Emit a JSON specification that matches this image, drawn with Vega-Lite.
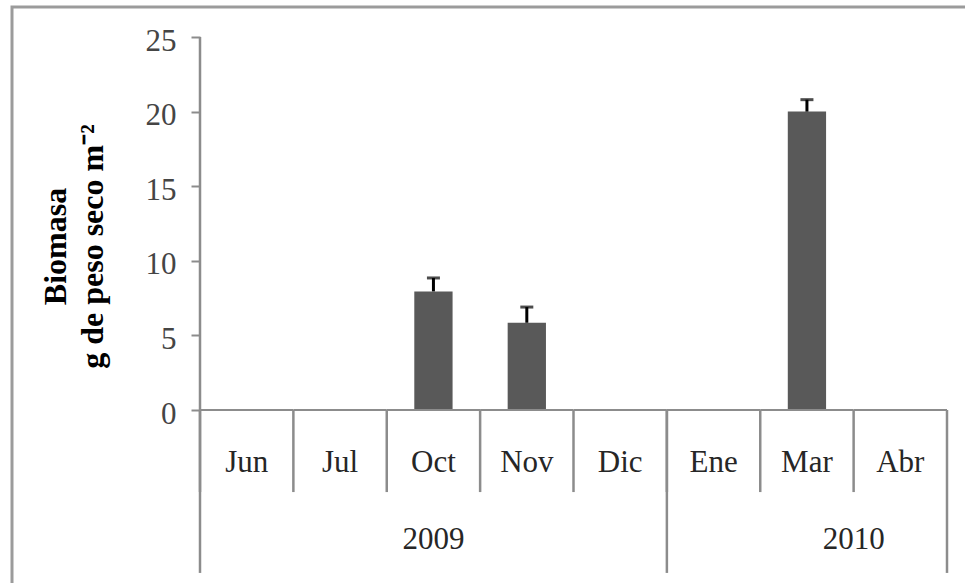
{
  "$schema": "https://vega.github.io/schema/vega-lite/v6.json",
  "autosize": "none",
  "padding": {"left": 12, "top": 7, "right": 0, "bottom": 0},
  "width": 958,
  "height": 580,
  "background": "white",
  "config": {
    "view": {"stroke": "#9b9b9b", "strokeWidth": 3},
    "font": "Liberation Serif"
  },
  "data": {
    "values": [
      {"mes": "Jun", "anio": "2009", "biomasa": 0, "sup": null},
      {"mes": "Jul", "anio": "2009", "biomasa": 0, "sup": null},
      {"mes": "Oct", "anio": "2009", "biomasa": 7.95, "sup": 8.85},
      {"mes": "Nov", "anio": "2009", "biomasa": 5.85, "sup": 6.9},
      {"mes": "Dic", "anio": "2009", "biomasa": 0, "sup": null},
      {"mes": "Ene", "anio": "2010", "biomasa": 0, "sup": null},
      {"mes": "Mar", "anio": "2010", "biomasa": 20.0, "sup": 20.8},
      {"mes": "Abr", "anio": "2010", "biomasa": 0, "sup": null}
    ]
  },
  "encoding": {
    "x": {
      "field": "mes",
      "type": "nominal",
      "sort": null,
      "scale": {"paddingInner": 0, "paddingOuter": 0, "range": [188, 935]},
      "axis": null
    }
  },
  "layer": [
    {
      "mark": {"type": "bar", "color": "#595959", "width": {"band": 0.41}},
      "encoding": {
        "y": {
          "field": "biomasa",
          "type": "quantitative",
          "scale": {"domain": [-11.863, 27.011], "nice": false, "zero": false},
          "axis": {
            "values": [0, 5, 10, 15, 20, 25],
            "offset": -188,
            "domain": false,
            "grid": false,
            "ticks": true,
            "tickSize": 9,
            "tickColor": "#8c8c8c",
            "tickWidth": 2,
            "labelFont": "Liberation Serif",
            "labelFontSize": 31,
            "labelColor": "#454545",
            "labelPadding": 15,
            "labelOffset": 4,
            "title": ["Biomasa", "g de peso seco m⁻²"],
            "titleFont": "Liberation Serif",
            "titleFontSize": 32,
            "titleFontWeight": "bold",
            "titleColor": "black",
            "titleLineHeight": 37,
            "titlePadding": 36,
            "titleY": 239
          }
        }
      }
    },
    {
      "transform": [{"filter": "datum.sup != null"}],
      "mark": {"type": "rule", "color": "black", "strokeWidth": 3},
      "encoding": {
        "y": {"field": "biomasa", "type": "quantitative"},
        "y2": {"field": "sup"}
      }
    },
    {
      "transform": [{"filter": "datum.sup != null"}],
      "mark": {"type": "tick", "color": "black", "thickness": 3, "size": 13, "orient": "horizontal"},
      "encoding": {
        "y": {"field": "sup", "type": "quantitative"}
      }
    },
    {
      "mark": {"type": "rect", "filled": false, "stroke": "#8c8c8c", "strokeWidth": 2},
      "encoding": {
        "y": {"datum": 0},
        "y2": {"datum": 0}
      }
    },
    {
      "mark": {"type": "rule", "color": "#8c8c8c", "strokeWidth": 2.5},
      "encoding": {
        "x": {"field": "mes", "type": "nominal", "sort": null, "bandPosition": 0},
        "y": {"datum": 0},
        "y2": {"datum": -5.5}
      }
    },
    {
      "transform": [{"filter": "datum.mes == 'Jun' || datum.mes == 'Ene'"}],
      "mark": {"type": "rule", "color": "#8c8c8c", "strokeWidth": 2.5},
      "encoding": {
        "x": {"field": "mes", "type": "nominal", "sort": null, "bandPosition": 0},
        "y": {"datum": 0},
        "y2": {"datum": -10.92}
      }
    },
    {
      "transform": [{"filter": "datum.mes == 'Abr'"}],
      "mark": {"type": "rule", "color": "#8c8c8c", "strokeWidth": 2.5},
      "encoding": {
        "x": {"field": "mes", "type": "nominal", "sort": null, "bandPosition": 1},
        "y": {"datum": 0},
        "y2": {"datum": -10.92}
      }
    },
    {
      "transform": [{"filter": "datum.mes == 'Jun'"}],
      "mark": {"type": "rule", "color": "#8c8c8c", "strokeWidth": 2.5},
      "encoding": {
        "x": {"field": "mes", "type": "nominal", "sort": null, "bandPosition": 0},
        "y": {"datum": 25},
        "y2": {"datum": 0}
      }
    },
    {
      "mark": {"type": "text", "font": "Liberation Serif", "fontSize": 31, "color": "#262626", "baseline": "middle", "align": "center"},
      "encoding": {
        "y": {"datum": -3.55},
        "text": {"field": "mes"}
      }
    },
    {
      "transform": [{"filter": "datum.mes == 'Oct'"}],
      "mark": {"type": "text", "font": "Liberation Serif", "fontSize": 31, "color": "#262626", "baseline": "middle", "align": "center"},
      "encoding": {
        "y": {"datum": -8.71},
        "text": {"field": "anio"}
      }
    },
    {
      "transform": [{"filter": "datum.mes == 'Mar'"}],
      "mark": {"type": "text", "font": "Liberation Serif", "fontSize": 31, "color": "#262626", "baseline": "middle", "align": "center"},
      "encoding": {
        "x": {"field": "mes", "type": "nominal", "sort": null, "bandPosition": 1},
        "y": {"datum": -8.71},
        "text": {"field": "anio"}
      }
    }
  ]
}
